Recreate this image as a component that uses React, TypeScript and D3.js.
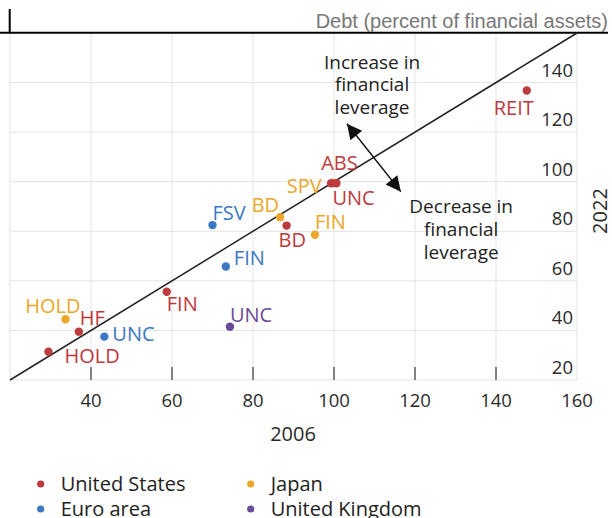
import React from "react"
import * as d3 from "d3"

// Leverage by sector: 2006 (x) vs 2022 (y), debt as percent of financial assets
const usLabels = ["HOLD", "HF", "FIN", "BD", "ABS", "UNC", "REIT"]
const us2006 = [29.5, 37.0, 58.7, 88.3, 99.3, 100.6, 147.6]
const us2022 = [31.4, 39.5, 55.6, 82.3, 99.4, 99.4, 136.8]

const euroLabels = ["UNC", "FIN", "FSV"]
const euro2006 = [43.3, 73.3, 70.0]
const euro2022 = [37.5, 65.8, 82.5]

const japanLabels = ["HOLD", "BD", "FIN", "SPV"]
const japan2006 = [33.7, 86.7, 95.3, 99.9]
const japan2022 = [44.5, 85.7, 78.6, 99.6]

const ukLabels = ["UNC"]
const uk2006 = [74.3]
const uk2022 = [41.5]

const xTicks = [40, 60, 80, 100, 120, 140, 160]
const yTicks = [20, 40, 60, 80, 100, 120, 140]
const gridValues = [20, 40, 60, 80, 100, 120, 140, 160]

const seriesNames = ["United States", "Euro area", "Japan", "United Kingdom"]
const seriesColors = ["#bd3a3e", "#3b78c3", "#eba72a", "#6a4a98"]

// label placement relative to its dot: [dx, dy, anchor]
const labelPlacement: Record<string, [number, number, string]> = {
  "United States HOLD": [16, 11, "start"],
  "United States HF": [1, -7, "start"],
  "United States FIN": [0, 19, "start"],
  "United States BD": [-8, 21, "start"],
  "United States ABS": [-10, -13, "start"],
  "United States UNC": [-4, 22, "start"],
  "United States REIT": [7, 24, "end"],
  "Euro area UNC": [8, 4, "start"],
  "Euro area FIN": [8, -1, "start"],
  "Euro area FSV": [0, -5, "start"],
  "Japan HOLD": [15, -6, "end"],
  "Japan BD": [-1, -5, "end"],
  "Japan FIN": [0, -6, "start"],
  "Japan SPV": [-12, 10, "end"],
  "United Kingdom UNC": [0, -5, "start"],
}

const font = "'Open Sans', 'Noto Sans', sans-serif"

export default function App() {
  const x = d3.scaleLinear().domain([20, 160]).range([10, 577])
  const y = d3.scaleLinear().domain([20, 160]).range([380, 33])

  const series = [
    { name: seriesNames[0], labels: usLabels, xs: us2006, ys: us2022 },
    { name: seriesNames[1], labels: euroLabels, xs: euro2006, ys: euro2022 },
    { name: seriesNames[2], labels: japanLabels, xs: japan2006, ys: japan2022 },
    { name: seriesNames[3], labels: ukLabels, xs: uk2006, ys: uk2022 },
  ]
  const color = d3.scaleOrdinal<string, string>().domain(seriesNames).range(seriesColors)

  // draw japan first so the overlapping US dots sit on top
  const drawOrder = [2, 1, 3, 0]

  const diag = d3.line<number>().x(d => x(d)).y(d => y(d))([20, 160])

  return (
    <svg width={612} height={518} style={{ position: "absolute", left: 0, top: 0 }} fontFamily={font}>
      <defs>
        <marker id="arr" viewBox="0 0 10 10" refX={10} refY={5} markerWidth={17} markerHeight={15}
          markerUnits="userSpaceOnUse" orient="auto-start-reverse">
          <path d="M0,0 L10,5 L0,10 z" fill="#111" />
        </marker>
      </defs>

      {/* header rule */}
      <line x1={0} x2={608} y1={32.7} y2={32.7} stroke="#000" strokeWidth={2} />
      <line x1={9.7} x2={9.7} y1={9} y2={33} stroke="#000" strokeWidth={2} />
      <text x={608} y={27.5} textAnchor="end" fontSize={20} fill="#777"
        fontFamily="'Liberation Sans', Arial, sans-serif">Debt (percent of financial assets)</text>

      {/* grid */}
      {gridValues.map(v => (
        <line key={"gx" + v} x1={x(v)} x2={x(v)} y1={y(160) + 1} y2={y(20)} stroke="#e3e3e3" strokeWidth={1} />
      ))}
      {gridValues.slice(0, -1).map(v => (
        <line key={"gy" + v} x1={x(20)} x2={x(160)} y1={y(v)} y2={y(v)} stroke="#e3e3e3" strokeWidth={1} />
      ))}

      {/* x ticks */}
      {xTicks.slice(0, -1).map(v => (
        <line key={"t" + v} x1={x(v)} x2={x(v)} y1={y(20) - 13} y2={y(20)} stroke="#444" strokeWidth={1.3} />
      ))}
      {xTicks.map(v => (
        <text key={"xl" + v} x={x(v)} y={406.5} textAnchor="middle" fontSize={18.5} fill="#2a2a2a">{v}</text>
      ))}
      <text x={293} y={440.5} textAnchor="middle" fontSize={20} fill="#2a2a2a">2006</text>

      {/* y labels inside plot, above gridlines */}
      {yTicks.map(v => (
        <text key={"yl" + v} x={573} y={y(v) - 6} textAnchor="end" fontSize={18.5} fill="#2a2a2a">{v}</text>
      ))}
      <text transform="translate(607,211) rotate(-90)" textAnchor="middle" fontSize={20} fill="#2a2a2a">2022</text>

      {/* 45 degree line */}
      <path d={diag ?? ""} stroke="#222" strokeWidth={1.5} fill="none" />

      {/* annotations */}
      <line x1={x(103.2)} y1={y(123.4)} x2={x(116.5)} y2={y(96)} stroke="#111" strokeWidth={1.5}
        markerStart="url(#arr)" markerEnd="url(#arr)" />
      {["Increase in", "financial", "leverage"].map((t, i) => (
        <text key={"inc" + i} x={x(109.4)} y={y(145.5) + i * 22.5} textAnchor="middle" fontSize={19} fill="#222">{t}</text>
      ))}
      {["Decrease in", "financial", "leverage"].map((t, i) => (
        <text key={"dec" + i} x={x(131.4)} y={y(87.2) + i * 23} textAnchor="middle" fontSize={19} fill="#222">{t}</text>
      ))}

      {/* points */}
      {drawOrder.map(si => {
        const s = series[si]
        return (
          <g key={s.name}>
            {s.labels.map((lab, i) => {
              const p = labelPlacement[s.name + " " + lab] ?? [4, -6, "start"]
              return (
                <g key={lab}>
                  <circle cx={x(s.xs[i])} cy={y(s.ys[i])} r={4.2} fill={color(s.name)} />
                  <text x={x(s.xs[i]) + p[0]} y={y(s.ys[i]) + p[1]} textAnchor={p[2]} fontSize={20}
                    fill={color(s.name)}>{lab}</text>
                </g>
              )
            })}
          </g>
        )
      })}

      {/* legend */}
      {seriesNames.map((n, i) => {
        const lx = i < 2 ? 40.7 : 250.7
        const ly = i % 2 === 0 ? 484 : 509
        return (
          <g key={"lg" + n}>
            <circle cx={lx} cy={ly} r={3.6} fill={color(n)} />
            <text x={lx + 20} y={ly + 7} fontSize={20} fill="#222">{n}</text>
          </g>
        )
      })}
    </svg>
  )
}
